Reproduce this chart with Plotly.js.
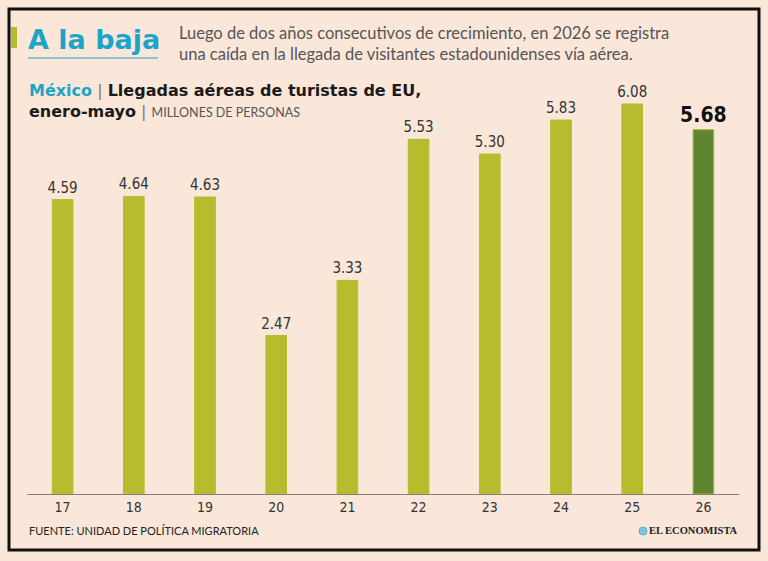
<!DOCTYPE html>
<html>
<head>
<meta charset="utf-8">
<script src="https://cdn.plot.ly/plotly-3.0.1.min.js"></script>
<style>
  html, body { margin: 0; padding: 0; background: #fbe6da; }
  #chart { width: 768px; height: 561px; }
</style>
</head>
<body>
<div id="chart"></div>
<script>
// Llegadas aéreas de turistas de EU a México, enero-mayo (millones de personas)
const years = ['17', '18', '19', '20', '21', '22', '23', '24', '25', '26'];
const arrivals = [4.59, 4.64, 4.63, 2.47, 3.33, 5.53, 5.30, 5.83, 6.08, 5.68];

const LIGHT = '#b5bd2f';
const DARK = '#5f862e';
const BG = '#fbe6da';

const last = years.length - 1;
const barColors = years.map((y, i) => i === last ? DARK : LIGHT);
const lineColors = years.map((y, i) => i === last ? '#a9b64a' : LIGHT);
const labels = arrivals.map((v, i) => i === last ? '<b>' + v.toFixed(2) + '</b>' : v.toFixed(2));
const labelSizes = arrivals.map((v, i) => i === last ? 21 : 15);
const labelColors = arrivals.map((v, i) => i === last ? '#111' : '#333');

const condensed = '"DejaVu Sans Condensed", "Liberation Sans Narrow", sans-serif';
const sans = 'Lato, "Open Sans", sans-serif';
const wide = '"DejaVu Sans", Verdana, sans-serif';

// pixel-anchored shape helper: offsets measured from the plot's bottom-left corner
function px(x0, x1, y0, y1, extra) {
  return Object.assign({ xref: 'paper', yref: 'paper', xsizemode: 'pixel', ysizemode: 'pixel',
    xanchor: 0, yanchor: 0, x0: x0, x1: x1, y0: y0, y1: y1 }, extra);
}

const trace = {
  type: 'bar',
  x: years,
  y: arrivals,
  width: 0.29,
  marker: { color: barColors, line: { color: lineColors, width: 1 } },
  text: labels,
  textposition: 'outside',
  constraintext: 'none',
  cliponaxis: false,
  textfont: { family: condensed, size: labelSizes, color: labelColors },
  hoverinfo: 'x+y'
};

const layout = {
  width: 768,
  height: 561,
  paper_bgcolor: BG,
  plot_bgcolor: BG,
  margin: { l: 27, r: 29, t: 45, b: 67 },
  showlegend: false,
  xaxis: {
    type: 'category',
    range: [-0.5, 9.5],
    showline: true,
    linecolor: '#8a7f78',
    linewidth: 1,
    ticks: '',
    tickfont: { family: condensed, size: 14, color: '#333' },
    showgrid: false,
    zeroline: false,
    fixedrange: true
  },
  yaxis: {
    range: [0, 7],
    visible: false,
    showgrid: false,
    zeroline: false,
    fixedrange: true
  },
  shapes: [
    // frame
    px(-18, 732, -56, 485, { type: 'rect', line: { color: '#111', width: 3 },
      fillcolor: 'rgba(0,0,0,0)', layer: 'above' }),
    // accent mark beside the headline
    px(-16, -10, 446, 467, { type: 'rect', line: { width: 0 }, fillcolor: LIGHT }),
    // headline underline
    px(1, 131, 436, 436, { type: 'line', line: { color: '#1ba5c9', width: 1 } }),
    // logo mark
    px(612, 620, -41, -33, { type: 'circle', line: { color: '#5fb0d0', width: 1 },
      fillcolor: '#7fc3dc', layer: 'above' })
  ],
  annotations: [
    { text: '<b>A la baja</b>', xref: 'paper', yref: 'paper', x: 0, y: 1,
      xanchor: 'left', yanchor: 'middle', xshift: -1, yshift: 6, showarrow: false,
      font: { family: wide, size: 27, color: '#1ba5c9' } },
    { text: 'Luego de dos años consecutivos de crecimiento, en 2026 se registra<br>una caída en la llegada de visitantes estadounidenses vía aérea.',
      xref: 'paper', yref: 'paper', x: 0, y: 1, xanchor: 'left', yanchor: 'middle',
      xshift: 150, yshift: 2, align: 'left', showarrow: false,
      font: { family: sans, size: 16.5, color: '#555' } },
    { text: '<b><span style="color:#1ba5c9">México</span></b> <span style="color:#777">|</span> <b>Llegadas aéreas de turistas de EU,</b><br><b>enero-mayo</b> <span style="color:#777">|</span> <span style="font-family:Lato;font-size:12.5px;color:#555">MILLONES DE PERSONAS</span>',
      xref: 'paper', yref: 'paper', x: 0, y: 1, xanchor: 'left', yanchor: 'top',
      xshift: 0, yshift: -34, align: 'left', showarrow: false,
      font: { family: wide, size: 16, color: '#1a1a1a' } },
    { text: 'FUENTE: UNIDAD DE POLÍTICA MIGRATORIA',
      xref: 'paper', yref: 'paper', x: 0, y: 0, xanchor: 'left', yanchor: 'middle',
      xshift: 0, yshift: -36, showarrow: false,
      font: { family: sans, size: 11, color: '#222' } },
    { text: '<b>EL ECONOMISTA</b>',
      xref: 'paper', yref: 'paper', x: 1, y: 0, xanchor: 'right', yanchor: 'middle',
      xshift: 1, yshift: -36, showarrow: false,
      font: { family: '"Liberation Serif", "DejaVu Serif", serif', size: 10.5, color: '#222' } }
  ]
};

Plotly.newPlot('chart', [trace], layout, { displayModeBar: false, staticPlot: true });
</script>
</body>
</html>
